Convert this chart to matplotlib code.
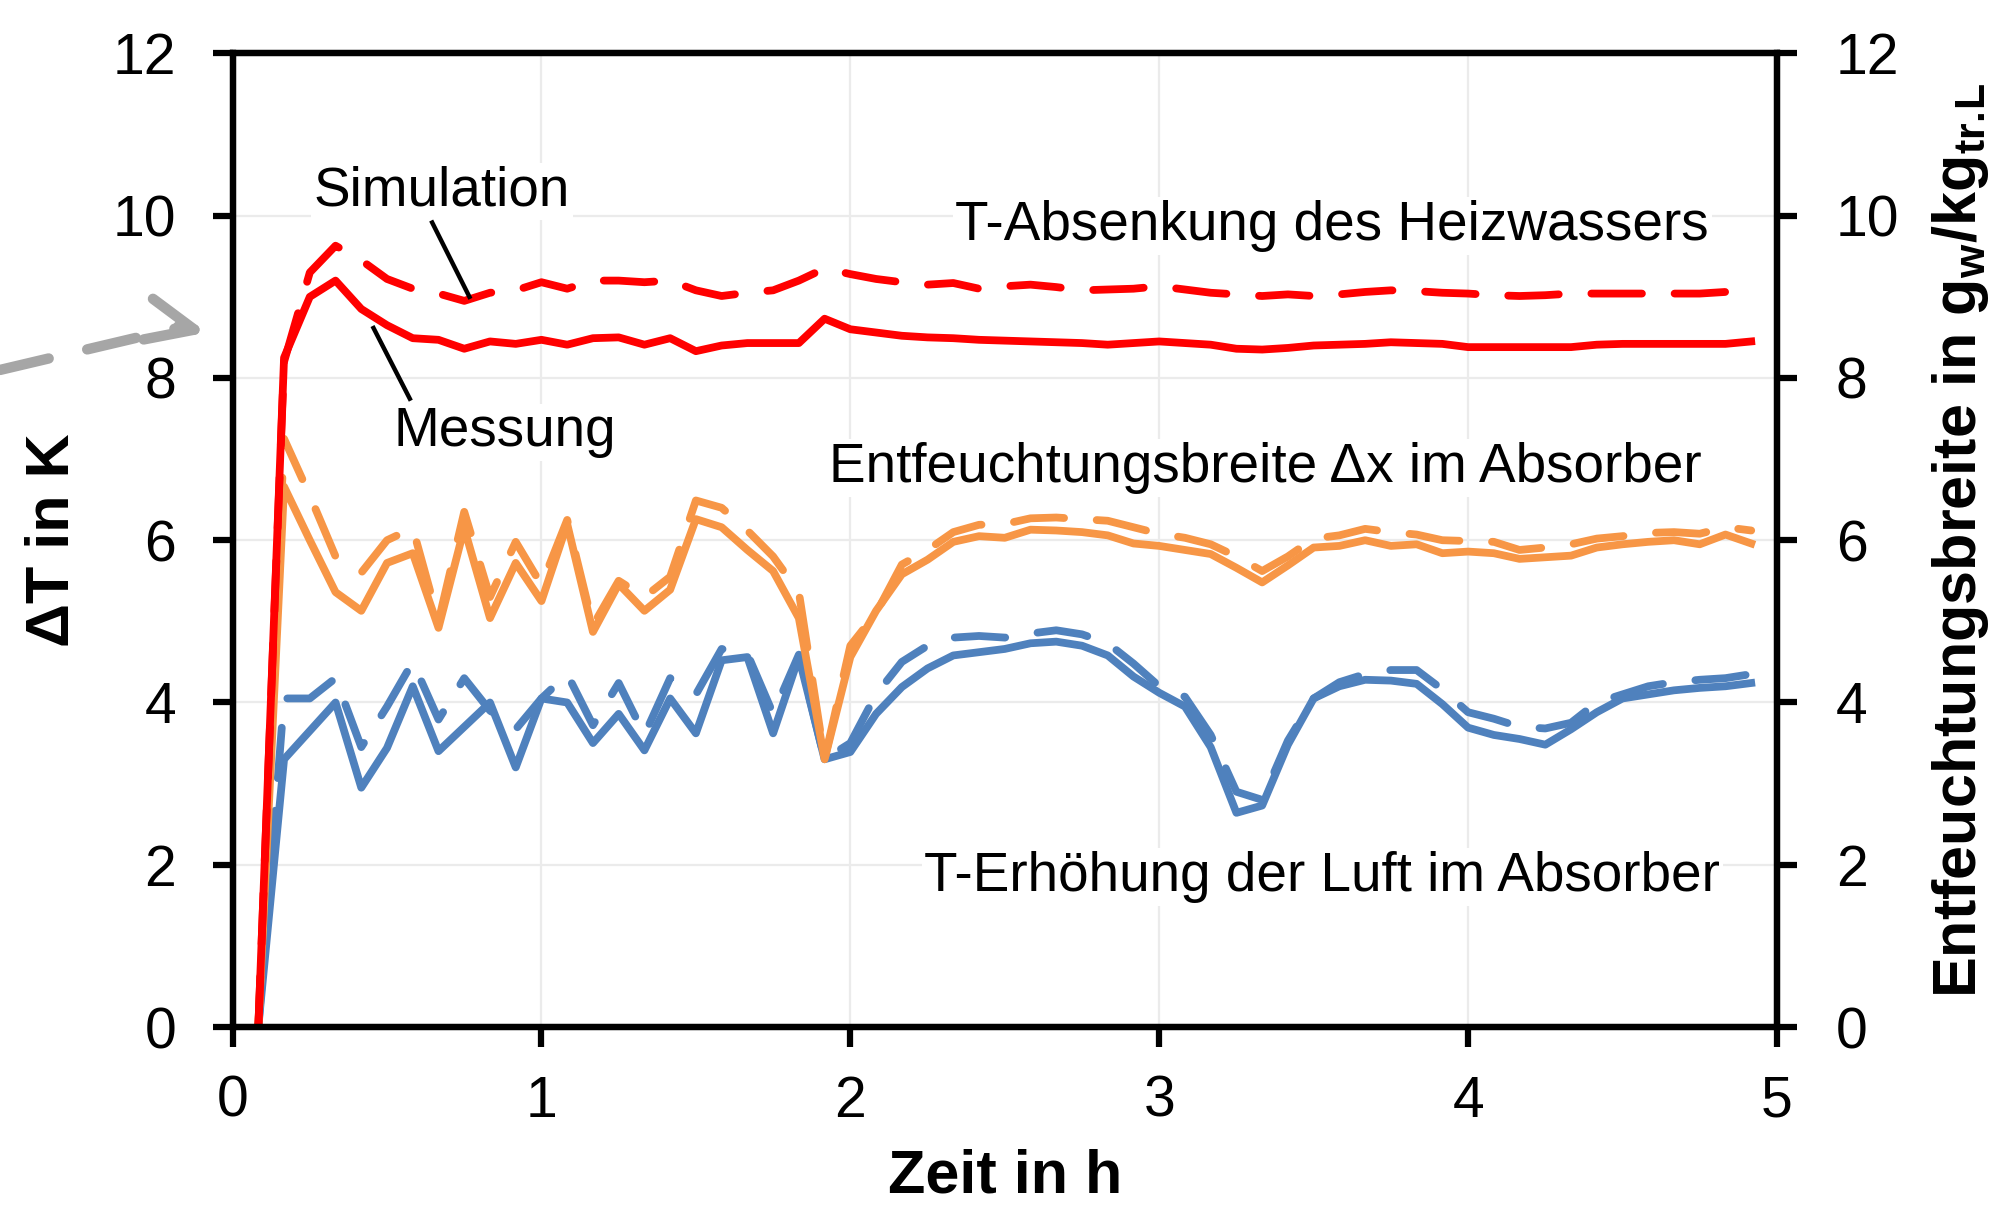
#!/usr/bin/env python3
# -*- coding: utf-8 -*-
###################################################################
# Absorber: T-Absenkung / T-Erhoehung / Entfeuchtungsbreite
# Messung (durchgezogen) vs. Simulation (gestrichelt)
###################################################################

import numpy as np
import matplotlib
matplotlib.use('Agg')
import matplotlib.pyplot as plt

matplotlib.rcParams['font.family'] = ['Liberation Sans', 'DejaVu Sans']
matplotlib.rcParams['mathtext.fontset'] = 'custom'
matplotlib.rcParams['mathtext.rm'] = 'Liberation Sans:bold'
matplotlib.rcParams['mathtext.bf'] = 'Liberation Sans:bold'
matplotlib.rcParams['axes.unicode_minus'] = False

#######################################
# Daten (5-Minuten-Werte)
#######################################
minuten = [5, 10, 15, 20, 25, 30, 35, 40, 45, 50, 55, 60,
           65, 70, 75, 80, 85, 90, 95, 100, 105, 110, 115, 120,
           125, 130, 135, 140, 145, 150, 155, 160, 165, 170, 175, 180,
           185, 190, 195, 200, 205, 210, 215, 220, 225, 230, 235, 240,
           245, 250, 255, 260, 265, 270, 275, 280, 285, 290, 295]

# T-Absenkung des Heizwassers in K
heizwasser_mess = [0.0, 8.25, 9.0, 9.2, 8.85, 8.65, 8.49, 8.47, 8.36, 8.45, 8.42, 8.47,
                   8.41, 8.49, 8.5, 8.41, 8.49, 8.33, 8.4, 8.43, 8.43, 8.43, 8.73, 8.6,
                   8.56, 8.52, 8.5, 8.49, 8.47, 8.46, 8.45, 8.44, 8.43, 8.41, 8.43, 8.45,
                   8.43, 8.41, 8.36, 8.35, 8.37, 8.4, 8.41, 8.42, 8.44, 8.43, 8.42, 8.38,
                   8.38, 8.38, 8.38, 8.38, 8.41, 8.42, 8.42, 8.42, 8.42, 8.42, 8.45]
heizwasser_sim = [0.0, 8.2, 9.3, 9.63, 9.45, 9.22, 9.1, 9.04, 8.95, 9.05, 9.08, 9.18,
                  9.1, 9.2, 9.2, 9.18, 9.2, 9.08, 9.01, 9.05, 9.08, 9.2, 9.35, 9.28,
                  9.22, 9.18, 9.15, 9.17, 9.1, 9.13, 9.15, 9.12, 9.08, 9.09, 9.1, 9.13,
                  9.09, 9.05, 9.03, 9.01, 9.03, 9.01, 9.03, 9.06, 9.08, 9.07, 9.05, 9.04,
                  9.02, 9.01, 9.02, 9.04, 9.04, 9.04, 9.04, 9.04, 9.04, 9.06, 9.09]

# Entfeuchtungsbreite in g/kg
entfeucht_mess = [0.0, 6.66, 6.0, 5.36, 5.13, 5.72, 5.84, 4.92, 6.15, 5.04, 5.72, 5.25,
                  6.2, 4.87, 5.46, 5.13, 5.39, 6.26, 6.16, 5.88, 5.62, 5.04, 3.3, 4.56,
                  5.13, 5.58, 5.76, 5.98, 6.05, 6.03, 6.13, 6.12, 6.1, 6.06, 5.96, 5.93,
                  5.88, 5.83, 5.66, 5.48, 5.69, 5.91, 5.93, 6.0, 5.93, 5.95, 5.84, 5.86,
                  5.84, 5.77, 5.79, 5.81, 5.91, 5.95, 5.98, 6.0, 5.95, 6.07, 5.96]
entfeucht_sim = [0.0, 7.25, 6.55, 5.8, 5.6, 6.0, 6.15, 5.0, 6.35, 5.3, 5.98, 5.45,
                 6.25, 4.95, 5.5, 5.3, 5.55, 6.49, 6.4, 6.12, 5.8, 5.36, 3.3, 4.7,
                 5.1, 5.7, 5.88, 6.1, 6.19, 6.2, 6.27, 6.28, 6.26, 6.24, 6.16, 6.08,
                 6.03, 5.95, 5.8, 5.62, 5.8, 6.02, 6.06, 6.14, 6.1, 6.07, 6.0, 5.99,
                 5.98, 5.88, 5.91, 5.95, 6.02, 6.05, 6.09, 6.1, 6.08, 6.16, 6.12]

# T-Erhoehung der Luft in K
luft_mess = [0.0, 3.3, 3.65, 4.0, 2.95, 3.44, 4.2, 3.4, 3.7, 4.0, 3.2, 4.05,
             4.0, 3.5, 3.86, 3.41, 4.05, 3.62, 4.52, 4.56, 3.62, 4.56, 3.3, 3.39,
             3.86, 4.19, 4.42, 4.58, 4.62, 4.66, 4.73, 4.75, 4.7, 4.58, 4.32, 4.12,
             3.95, 3.45, 2.64, 2.73, 3.48, 4.05, 4.2, 4.28, 4.27, 4.23, 3.98, 3.69,
             3.6, 3.55, 3.48, 3.67, 3.88, 4.05, 4.1, 4.15, 4.18, 4.2, 4.24]
luft_sim = [0.0, 4.05, 4.05, 4.3, 3.45, 3.95, 4.5, 3.79, 4.3, 3.9, 3.67, 4.05,
            4.35, 3.72, 4.24, 3.6, 4.3, 4.1, 4.66, 4.6, 3.86, 4.59, 3.3, 3.5,
            4.1, 4.5, 4.7, 4.8, 4.82, 4.8, 4.85, 4.89, 4.84, 4.73, 4.48, 4.2,
            4.07, 3.6, 2.9, 2.8, 3.53, 4.05, 4.25, 4.35, 4.4, 4.4, 4.16, 3.88,
            3.8, 3.7, 3.68, 3.75, 4.0, 4.1, 4.2, 4.25, 4.28, 4.3, 4.35]

y_ticks = [0, 2, 4, 6, 8, 10, 12]
x_ticks = [0, 1, 2, 3, 4, 5]

rot = '#FF0000'
orange = '#F79646'
blau = '#4F81BD'
lang_strich = (6.5, 4.2)

zeit = np.asarray(minuten) / 60.0

#######################################
# Plot
#######################################
fig = plt.figure(figsize=(19.93, 12.25), dpi=100)
ax = fig.add_axes([0.1167, 0.1616, 0.7749, 0.7948])

ax.set_axisbelow(True)
ax.grid(True, color='#EBEBEB', lw=1.6)

for mess, sim, farbe in [(luft_mess, luft_sim, blau),
                         (entfeucht_mess, entfeucht_sim, orange),
                         (heizwasser_mess, heizwasser_sim, rot)]:
    ax.plot(zeit, mess, color=farbe, lw=5.6, solid_joinstyle='round', zorder=2)
    ax.plot(zeit, sim, color=farbe, lw=5.6, dashes=lang_strich,
            dash_capstyle='round', dash_joinstyle='round', zorder=2)

ax.set_xlim(0, 5)
ax.set_ylim(0, 12)
ax.set_xticks(x_ticks)
ax.set_yticks(y_ticks)

ax2 = ax.twinx()
ax2.set_ylim(0, 12)
ax2.set_yticks(y_ticks)

for a in (ax, ax2):
    for s in a.spines.values():
        s.set_linewidth(4.5)
        s.set_color('black')
    a.tick_params(direction='out', length=14.5, width=4.5, labelsize=41,
                  color='black')
ax.tick_params(axis='y', pad=26)
ax.tick_params(axis='x', pad=20)
ax2.tick_params(axis='y', pad=28)

ax.set_xlabel('Zeit in h', fontsize=44, fontweight='bold', labelpad=14)
ax.set_ylabel('ΔT in K', fontsize=44, fontweight='bold', labelpad=22)
ax2.set_ylabel('Entfeuchtungsbreite in g$_\\mathbf{w}$/kg$_\\mathbf{tr.\\!L}$',
               fontsize=44, fontweight='bold', labelpad=22)

#######################################
# Beschriftungen
#######################################
box = dict(facecolor='white', edgecolor='none', pad=2)
ax.text(0.263, 10.3, 'Simulation', fontsize=39.5, va='center', ha='left',
        bbox=box, zorder=1)
ax.text(0.522, 7.33, 'Messung', fontsize=39.5, va='center', ha='left',
        bbox=box, zorder=1)
ax.text(2.34, 9.87, 'T-Absenkung des Heizwassers', fontsize=39.5,
        va='center', ha='left', bbox=box, zorder=1)
ax.text(1.93, 6.89, 'Entfeuchtungsbreite Δx im Absorber', fontsize=39.5,
        va='center', ha='left', bbox=box, zorder=1)
ax.text(2.24, 1.85, 'T-Erhöhung der Luft im Absorber', fontsize=39.5,
        va='center', ha='left', bbox=box, zorder=1)

# Zeigerlinien
ax.plot([0.643, 0.770], [9.94, 8.975], color='black', lw=3.2,
        solid_capstyle='butt', zorder=3)
ax.plot([0.453, 0.577], [8.64, 7.72], color='black', lw=3.2,
        solid_capstyle='butt', zorder=3)

# grauer Pfeil links
ax.annotate('', xy=(-0.03, 8.64), xycoords=('axes fraction', 'data'),
            xytext=(0.0, 0.698), textcoords='figure fraction',
            arrowprops=dict(arrowstyle='-', color='#A6A6A6', lw=7.5,
                            linestyle=(0, (4.8, 3.8)), shrinkA=0, shrinkB=0))
ax.annotate('', xy=(-0.0166, 8.56), xycoords=('axes fraction', 'data'),
            xytext=(-0.035, 8.64), textcoords=('axes fraction', 'data'),
            arrowprops=dict(arrowstyle='->,head_length=3.4,head_width=1.5',
                            color='#A6A6A6', lw=7.5, shrinkA=0, shrinkB=0))

plt.savefig('out.png', dpi=100)
